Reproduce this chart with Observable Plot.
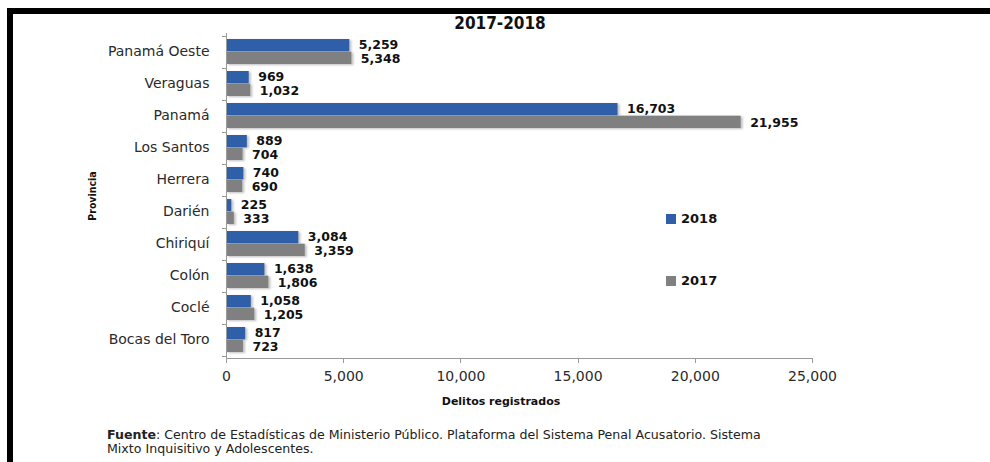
<!DOCTYPE html>
<html>
<head>
<meta charset="utf-8">
<script src="https://cdn.jsdelivr.net/npm/d3@7"></script>
<script src="https://cdn.jsdelivr.net/npm/@observablehq/plot@0.6"></script>
<style>
  html, body { margin: 0; padding: 0; background: #fff; }
  #wrap { position: relative; width: 990px; height: 462px; overflow: hidden; font-family: "DejaVu Sans", sans-serif; }
  #wrap svg { position: absolute; left: 0; top: 0; }
  .border { position: absolute; background: #000; }
  .title { position: absolute; left: 0; width: 1000px; top: 13px; text-align: center; font-family: "DejaVu Sans Condensed", "DejaVu Sans"; font-stretch: condensed; font-weight: bold; font-size: 17px; color: #111; }
  .ylab { position: absolute; left: 92px; top: 196px; transform: translate(-50%, -50%) rotate(-90deg); font-family: "DejaVu Sans Condensed", "DejaVu Sans"; font-stretch: condensed; font-weight: bold; font-size: 10.5px; color: #111; white-space: nowrap; }
  .xlab { position: absolute; left: 501px; top: 401px; transform: translate(-50%, -50%); font-family: "DejaVu Sans"; font-weight: bold; font-size: 11px; color: #111; white-space: nowrap; }
  .legend { position: absolute; left: 666px; font-family: "DejaVu Sans"; font-weight: bold; font-size: 13px; color: #111; display: flex; align-items: center; }
  .legend span.sw { display: inline-block; width: 10px; height: 10px; margin-right: 5px; }
  .caption { position: absolute; left: 107px; top: 428px; font-family: "DejaVu Sans"; font-size: 12.6px; line-height: 14px; color: #222; white-space: nowrap; }
  g[aria-label="bar"] rect { filter: drop-shadow(2px 1px 1px rgba(0,0,0,0.25)); }
</style>
</head>
<body>
<div id="wrap"></div>
<script>
// ---- data ----
const provinces = ["Panamá Oeste", "Veraguas", "Panamá", "Los Santos", "Herrera", "Darién", "Chiriquí", "Colón", "Coclé", "Bocas del Toro"];
const values2018 = [5259, 969, 16703, 889, 740, 225, 3084, 1638, 1058, 817];
const values2017 = [5348, 1032, 21955, 704, 690, 333, 3359, 1806, 1205, 723];
const years = ["2018", "2017"];
const xTicks = [0, 5000, 10000, 15000, 20000, 25000];
const titleText = "2017-2018";
const xLabel = "Delitos registrados";
const yLabel = "Provincia";

// ---- layout ----
const W = 990, H = 462;
const mL = 226, mR = 178, mT = 33, mB = 104;
const pInner = 0.22, pOuter = 0.11;
const colors = {"2018": "#2f5fa9", "2017": "#808080"};
const fmt = d3.format(",");

const rows2018 = provinces.map((p, i) => ({province: p, value: values2018[i], year: "2018"}));
const rows2017 = provinces.map((p, i) => ({province: p, value: values2017[i], year: "2017"}));

const yProbe = Plot.scale({y: {type: "band", domain: provinces, range: [mT, H - mB], paddingInner: pInner, paddingOuter: pOuter}});
const bw = yProbe.bandwidth;
const half = bw / 2;

const chart = Plot.plot({
  width: W, height: H,
  marginLeft: mL, marginRight: mR, marginTop: mT, marginBottom: mB,
  style: {fontFamily: "DejaVu Sans", fontSize: "14px", color: "#2a2a2a", background: "transparent"},
  x: {domain: [0, 25000], ticks: xTicks, tickFormat: fmt, tickSize: 0, tickPadding: 13, label: null},
  y: {domain: provinces, paddingInner: pInner, paddingOuter: pOuter, tickSize: 0, tickPadding: 17, label: null},
  marks: [
    Plot.barX(rows2018, {x: "value", y: "province", fill: colors["2018"], insetBottom: half}),
    Plot.barX(rows2017, {x: "value", y: "province", fill: colors["2017"], insetTop: half}),
    Plot.ruleX([0], {stroke: "#9a9a9a"}),
    Plot.text(rows2018, {x: "value", y: "province", text: d => fmt(d.value), dx: 9, dy: -6.6, textAnchor: "start", fontWeight: "bold", fontSize: 12.5, fill: "#111"}),
    Plot.text(rows2017, {x: "value", y: "province", text: d => fmt(d.value), dx: 9, dy: 6.6, textAnchor: "start", fontWeight: "bold", fontSize: 12.5, fill: "#111"})
  ]
});

const wrap = document.getElementById("wrap");
wrap.appendChild(chart);

// axis line, x ticks and category boundary ticks using the chart's scales
const xs = chart.scale("x");
const ys = chart.scale("y");
const svg = d3.select(chart);
const g = svg.append("g").attr("stroke", "#9a9a9a").attr("stroke-width", 1);
const yBottom = H - mB;
g.append("line").attr("x1", xs.apply(0)).attr("x2", xs.apply(25000)).attr("y1", yBottom + 0.5).attr("y2", yBottom + 0.5);
xTicks.forEach(t => {
  const x = Math.round(xs.apply(t)) + 0.5;
  g.append("line").attr("x1", x).attr("x2", x).attr("y1", yBottom).attr("y2", yBottom + 5);
});
const step = ys.apply(provinces[1]) - ys.apply(provinces[0]);
const gap = (step - ys.bandwidth) / 2;
const edges = provinces.map(p => ys.apply(p) - gap).concat([ys.apply(provinces[provinces.length - 1]) + ys.bandwidth + gap]);
edges.forEach(y => {
  const yy = Math.round(y) + 0.5;
  g.append("line").attr("x1", xs.apply(0) - 4).attr("x2", xs.apply(0)).attr("y1", yy).attr("y2", yy);
});

// html decorations
function add(cls, html, style) {
  const d = document.createElement("div");
  d.className = cls;
  d.innerHTML = html;
  if (style) Object.assign(d.style, style);
  wrap.appendChild(d);
  return d;
}
add("border", "", {left: "7px", top: "8px", width: "983px", height: "6px"});
add("border", "", {left: "7px", top: "8px", width: "6px", height: "454px"});
add("title", titleText);
add("ylab", yLabel);
add("xlab", xLabel);
add("legend", `<span class="sw" style="background:${colors["2018"]}"></span>${years[0]}`, {top: "211px"});
add("legend", `<span class="sw" style="background:${colors["2017"]}"></span>${years[1]}`, {top: "273px"});
add("caption", "<b>Fuente</b>: Centro de Estadísticas de Ministerio Público. Plataforma del Sistema Penal Acusatorio. Sistema<br>Mixto Inquisitivo y Adolescentes.");
</script>
</body>
</html>
